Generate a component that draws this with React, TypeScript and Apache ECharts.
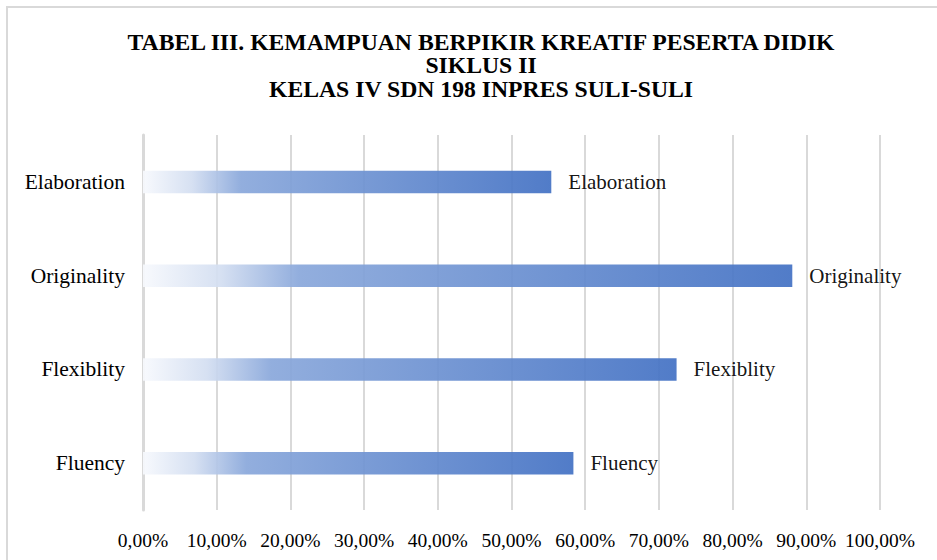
import React, { useEffect, useRef } from "react";
import * as echarts from "echarts";

const categories = ["Fluency", "Flexiblity", "Originality", "Elaboration"];
const values = [0.584, 0.724, 0.881, 0.554];
const tickValues = [0, 0.1, 0.2, 0.3, 0.4, 0.5, 0.6, 0.7, 0.8, 0.9, 1.0];
const titleLines = [
  "TABEL III. KEMAMPUAN BERPIKIR KREATIF PESERTA DIDIK",
  "SIKLUS II",
  "KELAS IV SDN 198 INPRES SULI-SULI",
];

const FONT = '"Liberation Serif", "Times New Roman", serif';

export default function App() {
  const ref = useRef<HTMLDivElement>(null);
  useEffect(() => {
    if (!ref.current) return;
    const chart = echarts.init(ref.current, undefined, { renderer: "svg" });
    const grad = new echarts.graphic.LinearGradient(0, 0, 1, 0, [
      { offset: 0, color: "#f7f9fd" },
      { offset: 0.12, color: "#d3def1" },
      { offset: 0.24, color: "#8aa8db" },
      { offset: 1, color: "#4472c4" },
    ]);
    chart.setOption({
      animation: false,
      backgroundColor: "#ffffff",
      title: {
        text: titleLines.join("\n"),
        left: 476,
        textAlign: "center",
        top: 25,
        textStyle: {
          fontFamily: FONT,
          fontWeight: "bold",
          fontSize: 23.7,
          lineHeight: 23.5,
          color: "#000000",
        },
      },
      graphic: [
        {
          type: "rect",
          shape: { x: 7, y: 7, width: 945, height: 570 },
          style: { fill: "none", stroke: "#d9d9d9", lineWidth: 2 },
          silent: true,
        },
      ],
      grid: { left: 143, right: 57, top: 135, bottom: 50, containLabel: false },
      xAxis: {
        type: "value",
        min: 0,
        max: 1,
        interval: 0.1,
        axisLine: { show: false },
        axisTick: { show: false },
        splitLine: { show: true, lineStyle: { color: "#d9d9d9", width: 2 } },
        axisLabel: {
          margin: 20,
          fontFamily: FONT,
          fontSize: 19.5,
          color: "#000000",
          customValues: tickValues,
          formatter: (v: number) => (v * 100).toFixed(2).replace(".", ",") + "%",
        },
      },
      yAxis: {
        type: "category",
        data: categories,
        axisTick: { show: false },
        axisLine: { show: true, lineStyle: { color: "#d9d9d9", width: 3 } },
        axisLabel: {
          margin: 18,
          fontFamily: FONT,
          fontSize: 21.5,
          color: "#000000",
        },
      },
      series: [
        {
          type: "bar",
          data: values,
          barWidth: 22.5,
          itemStyle: { color: grad, opacity: 0.93 },
          label: {
            show: true,
            position: "right",
            distance: 17,
            formatter: "{b}",
            fontFamily: FONT,
            fontSize: 21,
            color: "#000000",
          },
        },
      ],
    });
    return () => chart.dispose();
  }, []);
  return (
    <div
      ref={ref}
      style={{ position: "fixed", left: 0, top: 0, width: 937, height: 560 }}
    />
  );
}
